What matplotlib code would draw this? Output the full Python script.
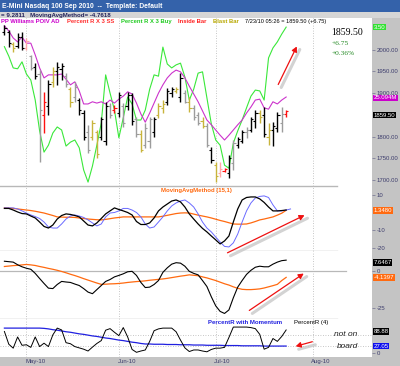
import matplotlib
matplotlib.use('Agg')
import matplotlib.pyplot as plt
import matplotlib.transforms as mtrans
from matplotlib.patches import Rectangle, FancyArrowPatch

# ---------------- data ----------------
bar_high = [2057, 2045, 2018, 2038, 2041, 2027, 1988, 1969, 1953, 1903, 1930, 1960, 1972, 1969, 1946, 1914,
            1926, 1889, 1861, 1827, 1838, 1815, 1845, 1880, 1877, 1873, 1903, 1877, 1903, 1900, 1845, 1815,
            1831, 1845, 1845, 1877, 1884, 1912, 1914, 1914, 1946, 1907, 1891, 1873, 1857, 1845, 1831, 1776,
            1741, 1741, 1727, 1757, 1792, 1799, 1815, 1822, 1845, 1861, 1861, 1868, 1831, 1833, 1856, 1868, 1861]
bar_low = [2034, 2006, 1995, 2004, 1999, 1999, 1953, 1932, 1741, 1808, 1850, 1914, 1919, 1930, 1914, 1868,
           1880, 1850, 1792, 1762, 1792, 1750, 1792, 1780, 1843, 1854, 1845, 1822, 1861, 1827, 1799, 1764,
           1773, 1773, 1799, 1843, 1854, 1873, 1891, 1900, 1880, 1877, 1856, 1838, 1827, 1820, 1776, 1739,
           1695, 1707, 1718, 1704, 1723, 1773, 1785, 1797, 1810, 1820, 1831, 1799, 1780, 1778, 1810, 1810, 1845]
bar_open = [2040, 2040, 2012, 2008, 2030, 2005, 1985, 1960, 1945, 1850, 1870, 1925, 1950, 1955, 1940, 1910,
            1890, 1885, 1855, 1810, 1800, 1810, 1800, 1790, 1870, 1860, 1855, 1870, 1870, 1895, 1840, 1805,
            1780, 1790, 1810, 1850, 1865, 1880, 1900, 1905, 1890, 1900, 1880, 1865, 1850, 1835, 1825, 1770,
            1735, 1715, 1720, 1715, 1740, 1780, 1790, 1810, 1815, 1835, 1855, 1850, 1800, 1815, 1820, 1830, 1853]
bar_close = [2050, 2015, 2005, 2030, 2005, 2020, 1958, 1940, 1860, 1880, 1920, 1950, 1960, 1962, 1920, 1880,
             1915, 1860, 1800, 1770, 1830, 1760, 1840, 1870, 1850, 1865, 1895, 1830, 1895, 1835, 1805, 1770,
             1820, 1840, 1840, 1870, 1875, 1905, 1910, 1910, 1935, 1880, 1865, 1845, 1830, 1825, 1780, 1745,
             1710, 1725, 1725, 1750, 1785, 1795, 1810, 1815, 1840, 1855, 1845, 1805, 1815, 1825, 1850, 1853, 1859.5]
bar_kind = list("kkykkpgkgrkykkgygkkgyykkgrkgkkgyggkyykkykgygg" "ygkyprkgkkgkkykykkgr")

percent_r_buy = [2007, 1985, 1958, 1956, 1972, 1944, 1930, 1884, 1813, 1764, 1780, 1808, 1822, 1815, 1778, 1787,
                 1792, 1774, 1723, 1695, 1732, 1780, 1831, 1942, 1900, 1861, 1797, 1843, 1891, 1875, 1838, 1838,
                 1861, 1909, 1942, 1939, 2006, 1967, 1958, 1965, 1969, 1937, 1884, 1909, 1946, 1949, 1889, 1829,
                 1792, 1780, 1734, 1727, 1785, 1813, 1838, 1866, 1893, 1907, 1905, 1884, 1981, 2004, 2018, 2036, 2052]
poiv_ad = [2055, 2043, 2027, 2018, 2029, 2015, 2015, 1988, 1958, 1935, 1942, 1942, 1942, 1944, 1932, 1919,
           1926, 1905, 1875, 1875, 1880, 1877, 1880, 1875, 1884, 1877, 1886, 1893, 1903, 1898, 1877, 1852,
           1833, 1854, 1877, 1900, 1919, 1935, 1946, 1953, 1949, 1935, 1916, 1898, 1880, 1859, 1838, 1827,
           1815, 1803, 1792, 1803, 1815, 1827, 1838, 1854, 1868, 1884, 1886, 1866, 1863, 1880, 1875, 1884, 1891]

mam_fast = [2.4, 2.4, 1.5, 0.4, -0.5, -0.7, -1.9, -3.0, -5.3, -7.8, -8.7, -7.0, -3.6, -1.6, -0.7, -1.0,
            -1.6, -2.4, -4.7, -7.0, -7.5, -5.8, -3.3, -0.7, 1.0, 2.7, 1.8, 1.0, 0.1, -1.3, -5.0, -6.7,
            -6.7, -5.8, -3.0, 1.0, 3.2, 4.9, 6.6, 7.2, 6.1, 3.2, -0.7, -3.6, -6.4, -8.9, -10.9, -13.2,
            -15.4, -17.7, -16.0, -13.2, -5.3, 2.1, 7.2, 8.6, 8.9, 8.9, 7.8, 5.8, 3.2, 1.0, 1.0, 1.2, 1.5]
mam_lag = [2.7, 2.7, 2.7, 2.1, 1.0, -0.2, -1.3, -2.2, -3.3, -5.3, -8.1, -8.7, -8.7, -6.4, -3.6, -1.9,
           -1.3, -1.9, -2.7, -4.1, -5.8, -7.5, -6.4, -2.4, -0.2, 0.1, 1.0, 2.4, 2.4, 1.5, 0.1, -2.4,
           -6.4, -8.7, -8.1, -5.3, -2.4, 1.0, 3.8, 5.5, 6.6, 7.2, 5.5, 3.2, -0.7, -5.3, -8.7, -10.9,
           -13.8, -16.6, -19.1, -19.4, -17.1, -12.1, -5.3, 1.0, 5.5, 8.3, 9.2, 9.5, 8.6, 4.4, 1.0, 1.0, 1.5, 2.1]
mam_slow = [2.7, 2.6, 2.4, 2.1, 1.8, 1.5, 1.2, 0.8, 0.3, -0.2, -0.9, -1.6, -2.4, -2.5, -2.6, -2.6,
            -2.7, -3.0, -3.3, -3.6, -3.8, -4.0, -4.1, -3.8, -3.4, -3.0, -2.7, -2.4, -2.4, -2.4, -2.4, -2.4,
            -2.4, -2.4, -2.4, -2.4, -2.0, -1.5, -1.0, -0.5, -0.2, -0.1, -0.2, -0.8, -1.4, -1.9, -2.4, -3.0,
            -3.7, -4.4, -5.0, -5.7, -6.4, -6.5, -6.5, -6.4, -5.8, -5.0, -4.1, -3.6, -3.0, -2.4, -1.4, -0.3, 1.348]

mom_line = [6.9, 6.6, 6.3, 4.5, 3.1, 2.1, 1.4, -1.4, -4.9, -8.3, -11.5, -11.8, -9.0, -6.9, -7.3, -7.6,
            -8.7, -9.7, -11.8, -14.2, -15.3, -12.5, -9.7, -6.9, -5.6, -3.8, -2.8, -1.7, -0.3, 0.0, -2.8, -7.6,
            -11.1, -10.8, -9.0, -6.3, -0.7, 2.4, 4.9, 5.9, 5.6, 3.5, 0.0, -1.4, -2.4, -6.3, -10.4, -17.4,
            -23.6, -27.4, -28.8, -26.4, -18.1, -10.8, -6.3, -2.1, 0.7, 2.8, 3.5, 3.1, 3.1, 4.9, 6.3, 7.3, 7.6467]
mom_avg = [3.3, 3.6, 3.9, 4.1, 4.4, 4.7, 4.4, 4.0, 3.3, 2.7, 2.0, 1.4, 0.7, -0.1, -1.0, -2.0,
           -2.9, -3.9, -5.0, -6.0, -7.0, -8.0, -8.9, -8.8, -8.6, -8.5, -8.3, -8.0, -7.6, -7.3, -7.0, -6.8,
           -6.5, -6.1, -5.8, -5.5, -5.2, -4.8, -4.3, -3.8, -3.3, -2.9, -2.4, -2.7, -3.0, -3.8, -4.5, -5.4,
           -6.3, -7.4, -8.5, -9.4, -10.6, -11.6, -12.3, -12.5, -12.5, -12.3, -12.0, -11.4, -10.6, -9.8, -8.9, -6.3, -4.1397]

pctr4 = [83, 34, 19, 62, 30, 32, 22, 62, 25, 38, 25, 70, 96, 89, 40, 36,
         25, 20, 15, 8, 23, 37, 48, 88, 94, 80, 67, 98, 62, 14, 3, 8,
         12, 45, 86, 93, 96, 96, 96, 82, 50, 20, 6, 12, 12, 8, 5, 14,
         19, 19, 22, 60, 100, 100, 100, 100, 98, 94, 72, 15, 22, 56, 45, 64, 88.88]
pctr_mom = [96, 96, 96, 96, 96, 96, 96, 96, 96, 95, 93, 90, 88, 85, 82, 80,
            77, 74, 72, 69, 66, 64, 61, 58, 56, 53, 50, 48, 45, 42, 40, 37,
            35, 35, 34, 34, 34, 33, 33, 33, 32, 32, 32, 31, 31, 31, 30, 30,
            30, 30, 29, 29, 29, 29, 28, 28, 28, 28, 28, 27, 27, 27, 27, 27, 27.05]

month_labels = ['May-10', 'Jun-10', 'Jul-10', 'Aug-10']
month_pos = [5, 26, 48, 70]
price_ticks = [1700, 1750, 1800, 1900, 1950, 2000]

# ---------------- figure ----------------
W, H = 400, 366
fig = plt.figure(figsize=(W / 100, H / 100), dpi=100)
fig.patch.set_facecolor('#c4c4c4')
plt.rcParams['font.family'] = ['Liberation Sans', 'DejaVu Sans']

AXW = 372
LBL = '#3c3c6c'


def fr(px, py):
    return (px / W, 1 - py / H)


def make_ax(top, bot):
    ax = fig.add_axes([0, 1 - bot / H, AXW / W, (bot - top) / H])
    ax.set_facecolor('white')
    for s in ax.spines.values():
        s.set_visible(False)
    ax.yaxis.tick_right()
    ax.tick_params(axis='y', direction='out', length=2, width=0.5, color='#707090',
                   labelsize=4.3, labelcolor=LBL, pad=1.5)
    ax.tick_params(axis='x', bottom=False, labelbottom=False)
    ax.set_xlim(-1, 83.5)
    for p in month_pos:
        ax.axvline(p, color='#b4b4b4', lw=0.6, ls=(0, (1, 2)), zorder=0)
    return ax


def vbox(ax, y, text, fc, tc='white'):
    tr = mtrans.blended_transform_factory(ax.transAxes, ax.transData)
    ax.text(1.004, y, text, transform=tr, ha='left', va='center', fontsize=4.3, color=tc,
            bbox=dict(boxstyle='square,pad=0.12', fc=fc, ec='none'), clip_on=False, zorder=20)


def sep(ax, yfrac, x1=0.905):
    ax.plot([0, x1], [yfrac, yfrac], transform=ax.transAxes, color='#b8b8b8', lw=1.0,
            clip_on=False, zorder=5)


idx = list(range(len(bar_high)))
kind_color = {'k': '#000000', 'g': '#9c9c9c', 'y': '#c8b43c', 'r': '#ff1010', 'p': '#ffa8a8'}

# ---- panel 1 : price ----
ax1 = make_ax(18, 186)
ax1.set_ylim(1686, 2073)
ax1.set_yticks(price_ticks)
ax1.set_yticklabels(['%.2f' % v for v in price_ticks])
ax1.plot(idx, percent_r_buy, color='#3ae83a', lw=0.8, zorder=3)
ax1.plot(idx, poiv_ad, color='#cc33cc', lw=0.8, zorder=4)
cols = [kind_color[k] for k in bar_kind]
ax1.vlines(idx, bar_low, bar_high, colors=cols, lw=1.0, zorder=5)
ax1.hlines(bar_open, [i - 0.5 for i in idx], idx, colors=cols, lw=0.8, zorder=5)
ax1.hlines(bar_close, idx, [i + 0.5 for i in idx], colors=cols, lw=0.8, zorder=5)
vbox(ax1, percent_r_buy[-1], '3.50', '#33e033')
vbox(ax1, poiv_ad[-1] - 2, '25.094M', '#cc00cc')
vbox(ax1, bar_close[-1] - 10, '%.2f' % bar_close[-1], '#000000')

legend_items = [('PP Williams POIV AD', '#cc00cc', 1), ('Percent R X 3 SS', '#ff3030', 67),
                ('Percent R X 3 Buy', '#22cc22', 121), ('Inside Bar', '#ff2020', 178),
                ('Blast Bar', '#b8a800', 213)]
for t, c, px in legend_items:
    fig.text(*fr(px, 21.5), t, fontsize=4.2, color=c, fontweight='bold', va='center', ha='left')
fig.text(*fr(245, 21.5), '7/23/10 05:26 = %.2f (+%.2f)' % (bar_close[-1], 6.75), fontsize=4.1,
         color='black', va='center', ha='left')
fig.text(*fr(331, 32.5), '%.2f' % bar_close[-1], fontsize=7, family='Liberation Serif',
         color='black', va='center', ha='left')
fig.text(*fr(332, 43.5), '+6.75', fontsize=5.3, family='Liberation Serif', color='#228822',
         va='center', ha='left')
fig.text(*fr(332, 53.5), '+0.36%', fontsize=5.3, family='Liberation Serif', color='#228822',
         va='center', ha='left')

# ---- panel 2 : MovingAvgMethod ----
ax2 = make_ax(186, 251)
ax2.set_ylim(-21.7, 15.1)
ax2.set_yticks([10, -10, -20])
ax2.set_yticklabels(['10', '-10', '-20'])
ax2.plot(idx, mam_slow, color='#ff6a10', lw=0.9, zorder=3)
ax2.plot(list(range(len(mam_lag))), mam_lag, color='#6a6aff', lw=0.7, zorder=4)
ax2.plot(idx, mam_fast, color='#000000', lw=0.9, zorder=5)
vbox(ax2, mam_slow[-1], '%.4f' % mam_slow[-1], '#ff6a10')
sep(ax2, 1.0)
sep(ax2, 0.0)
ax2.text(0.433, 0.93, 'MovingAvgMethod (15,1)', transform=ax2.transAxes, fontsize=4.3,
         color='#ff6a10', fontweight='bold', va='center', ha='left')

# ---- panel 3 : momentum ----
ax3 = make_ax(251, 319)
ax3.set_ylim(-32.6, 13.9)
ax3.set_yticks([0, -25])
ax3.set_yticklabels(['0', '-25'])
ax3.plot([-1, 77.5], [0, 0], color='#b8b8b8', lw=0.9, zorder=1)
ax3.plot(idx, mom_avg, color='#ff6a10', lw=0.9, zorder=3)
ax3.plot(idx, mom_line, color='#000000', lw=0.8, zorder=4)
vbox(ax3, mom_line[-1] - 1.5, '%.4f' % mom_line[-1], '#000000')
vbox(ax3, mom_avg[-1], '%.4f' % mom_avg[-1], '#ff6a10')
sep(ax3, 0.0)

# ---- panel 4 : PercentR ----
ax4 = make_ax(319, 357)
ax4.set_ylim(-15, 131)
ax4.set_yticks([0])
ax4.set_yticklabels(['0'])
for lv in (70, 28):
    ax4.axhline(lv, color='#b4b4b4', lw=0.6, ls=(0, (1, 2)), zorder=0)
ax4.plot(idx, pctr_mom, color='#2020e0', lw=0.9, zorder=3)
ax4.plot(idx, pctr4, color='#000000', lw=0.7, zorder=4)
vbox(ax4, pctr4[-1] - 6, '%.2f' % pctr4[-1], '#000000')
vbox(ax4, pctr_mom[-1], '%.2f' % pctr_mom[-1], '#1010ee')
ax4.text(0.558, 0.9, 'PercentR with Momentum', transform=ax4.transAxes, fontsize=4.3,
         color='#2020e0', fontweight='bold', va='center', ha='left')
ax4.text(0.79, 0.9, 'PercentR (4)', transform=ax4.transAxes, fontsize=4.3,
         color='#000000', va='center', ha='left')
mtr = mtrans.blended_transform_factory(ax4.transData, fig.transFigure)
for p, lab in zip(month_pos, month_labels):
    ax4.text(p - 0.3, 1 - 361.5 / H, lab, transform=mtr, fontsize=4.3, color=LBL,
             ha='left', va='center', clip_on=False)
fig.text(*fr(334, 335), 'not on', fontsize=6, style='italic', color='#222222', va='center', ha='left')
fig.text(*fr(337, 346), 'board', fontsize=6, style='italic', color='#222222', va='center', ha='left')

# ---- header bars ----
fig.patches.append(Rectangle(fr(0, 12), 1, 12 / H, transform=fig.transFigure, fc='#3462aa',
                             ec='none', zorder=0))
fig.patches.append(Rectangle(fr(0, 18), 1, 6 / H, transform=fig.transFigure, fc='#d6d6d6',
                             ec='none', zorder=0))
fig.text(*fr(2, 6), 'E-Mini Nasdaq 100 Sep 2010  --  Template: Default', fontsize=4.9,
         fontweight='bold', color='white', va='center', ha='left')
fig.text(*fr(1, 15), '= 9.2811   MovingAvgMethod= -4.7618', fontsize=4.4,
         fontweight='bold', color='#22225a', va='center', ha='left')

# ---- annotation arrows (figure pixel coords) ----
arrows = [((277, 87), (298, 44)), ((225, 254), (307, 214)), ((247, 312), (306, 272)),
          ((315, 341), (293, 347))]
for (x0, y0), (x1, y1) in arrows:
    sh = FancyArrowPatch(fr(x0 + 3, y0 + 3), fr(x1 + 3, y1 + 3), transform=fig.transFigure,
                         arrowstyle='-', color='#c8c8c8', lw=2.2, alpha=0.8, zorder=30)
    fig.patches.append(sh)
    ar = FancyArrowPatch(fr(x0, y0), fr(x1, y1), transform=fig.transFigure,
                         arrowstyle='-|>,head_length=3,head_width=1.6', color='#ee1010',
                         lw=0.9, zorder=31)
    fig.patches.append(ar)

fig.savefig('out.png', dpi=100, facecolor=fig.get_facecolor())
